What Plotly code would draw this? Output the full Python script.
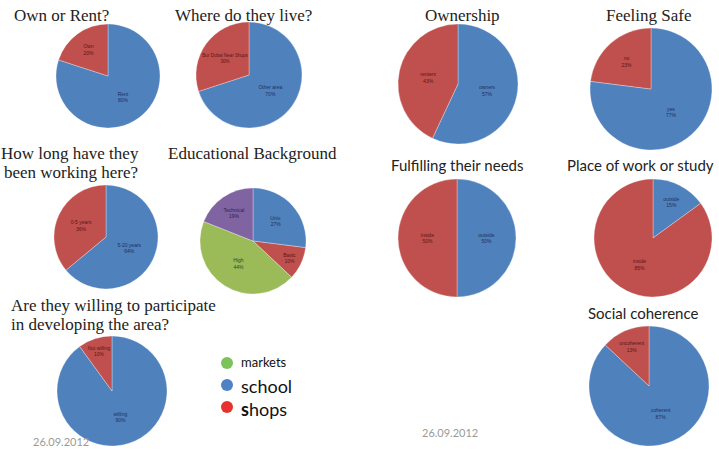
import plotly.graph_objects as go

W, H = 719, 452

BLUE = "#4F81BD"
RED = "#C0504D"
GREEN = "#9BBB59"
PURPLE = "#8064A2"

# ---- data ----
own_labels = ["Rent", "Own"]
own_values = [80, 20]

live_labels = ["Other area", "Bur Dubai Near Shops"]
live_values = [70, 30]

work_labels = ["5-20 years", "0-5 years"]
work_values = [64, 36]

edu_labels = ["Univ.", "Basic", "High", "Technical"]
edu_values = [27, 10, 44, 19]

willing_labels = ["willing", "Not willing"]
willing_values = [90, 10]

ownership_labels = ["owners", "renters"]
ownership_values = [57, 43]

safe_labels = ["yes", "no"]
safe_values = [77, 23]

needs_labels = ["outside", "inside"]
needs_values = [50, 50]

place_labels = ["outside", "inside"]
place_values = [15, 85]

coherence_labels = ["coherent", "uncoherent"]
coherence_values = [87, 13]

legend_labels = ["markets", "school", "shops"]
date_label = "26.09.2012"

# ---- layout helpers (positions in pixels) ----
def dom(cx, cy, r):
    return dict(x=[(cx - r) / W, (cx + r) / W], y=[1 - (cy + r) / H, 1 - (cy - r) / H])

def pie(labels, values, colors, cx, cy, r, tcolors):
    return go.Pie(
        labels=labels, values=values, sort=False, direction="clockwise", rotation=0,
        marker=dict(colors=colors, line=dict(color="rgba(255,255,255,0.5)", width=0.6)),
        domain=dom(cx, cy, r), textinfo="label+percent", textposition="inside",
        insidetextorientation="horizontal",
        texttemplate="%{label}<br>%{percent:.0%}",
        textfont=dict(size=5, color=tcolors, family="Liberation Sans"),
        hoverinfo="label+percent", showlegend=False,
    )

DB, DR, DG, DP = "#1f2f5a", "#5a1515", "#2f4a1a", "#2e2050"

fig = go.Figure()
fig.add_trace(pie(own_labels, own_values, [BLUE, RED], 108, 76, 52, [DB, DR]))
fig.add_trace(pie(live_labels, live_values, [BLUE, RED], 249, 75, 53, [DB, DR]))
fig.add_trace(pie(work_labels, work_values, [BLUE, RED], 106, 237, 52, [DB, DR]))
fig.add_trace(pie(edu_labels, edu_values, [BLUE, RED, GREEN, PURPLE], 253, 241, 53, [DB, DR, DG, DP]))
fig.add_trace(pie(willing_labels, willing_values, [BLUE, RED], 112, 391, 55, [DB, DR]))
fig.add_trace(pie(ownership_labels, ownership_values, [BLUE, RED], 458, 84, 60, [DB, DR]))
fig.add_trace(pie(safe_labels, safe_values, [BLUE, RED], 651, 89, 61, [DB, DR]))
fig.add_trace(pie(needs_labels, needs_values, [BLUE, RED], 457, 238, 59, [DB, DR]))
fig.add_trace(pie(place_labels, place_values, [BLUE, RED], 653, 238, 59, [DB, DR]))
fig.add_trace(pie(coherence_labels, coherence_values, [BLUE, RED], 649, 386, 60, [DB, DR]))

SERIF = "Liberation Serif"
SANS = "Lato"

ann = []
def txt(x, y, s, size, family, color="#222", xanchor="center"):
    ann.append(dict(x=x, y=y, xref="x", yref="y", text=s, showarrow=False,
                    font=dict(size=size, family=family, color=color),
                    xanchor=xanchor, yanchor="middle"))

txt(61, 15, "Own or Rent?", 17, SERIF)
txt(243, 15, "Where do they live?", 17, SERIF)
txt(70, 153, "How long have they", 17, SERIF)
txt(71, 172, "been working here?", 17, SERIF)
txt(252, 153, "Educational Background", 17, SERIF)
txt(9, 305, "Are they willing to participate", 17, SERIF, xanchor="left")
txt(9, 324, "in developing the area?", 17, SERIF, xanchor="left")
txt(462, 15, "Ownership", 17, SERIF)
txt(648, 15, "Feeling Safe", 17, SERIF)
txt(457, 165, "Fulfilling their needs", 15, SANS)
txt(640, 165, "Place of work or study", 15, SANS)
txt(643, 313, "Social coherence", 15, SANS)

txt(239, 362, legend_labels[0], 13, SANS, "#111", "left")
txt(239, 386, legend_labels[1], 18, SANS, "#111", "left")
txt(239, 409, "<b>" + legend_labels[2][0] + "</b>" + legend_labels[2][1:], 18, SANS, "#111", "left")

txt(31, 441, date_label, 11, SANS, "#9a9a9a", "left")
txt(420, 432, date_label, 11, SANS, "#9a9a9a", "left")

fig.add_trace(go.Scatter(
    x=[227, 227, 227], y=[363, 385, 407], mode="markers",
    marker=dict(size=12, color=["#7cc35a", "#4f81c7", "#e8312f"]),
    hoverinfo="skip", showlegend=False,
))

fig.update_layout(
    width=W, height=H, margin=dict(l=0, r=0, t=0, b=0),
    paper_bgcolor="white", plot_bgcolor="white",
    xaxis=dict(range=[0, W], visible=False, domain=[0, 1], fixedrange=True),
    yaxis=dict(range=[H, 0], visible=False, domain=[0, 1], fixedrange=True),
    annotations=ann, showlegend=False,
)

fig.write_html("out.html")
